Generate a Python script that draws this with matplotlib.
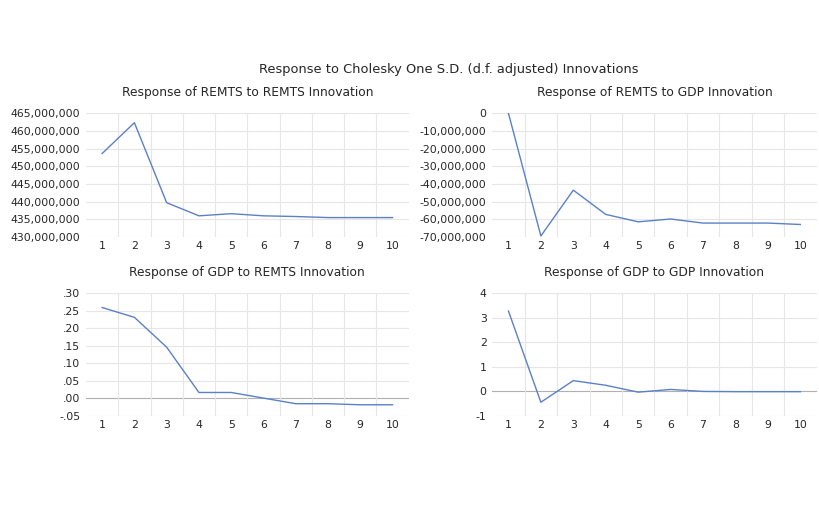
import numpy as np
import matplotlib.pyplot as plt
from matplotlib.ticker import FuncFormatter

plt.rcParams['font.family'] = ['DejaVu Sans']

# periods and impulse responses
periods = np.arange(1, 11)
remts_to_remts = [453.6e6, 462.3e6, 439.7e6, 436.0e6, 436.6e6, 436.0e6, 435.8e6, 435.5e6, 435.5e6, 435.5e6]
remts_to_gdp = [0.0, -69.4e6, -43.5e6, -57.2e6, -61.4e6, -59.8e6, -62.1e6, -62.1e6, -62.1e6, -62.9e6]
gdp_to_remts = [0.259, 0.231, 0.146, 0.017, 0.017, 0.001, -0.015, -0.015, -0.018, -0.018]
gdp_to_gdp = [3.27, -0.44, 0.44, 0.25, -0.03, 0.08, 0.0, -0.01, -0.01, -0.01]

titles = ["Response of REMTS to REMTS Innovation",
          "Response of REMTS to GDP Innovation",
          "Response of GDP to REMTS Innovation",
          "Response of GDP to GDP Innovation"]

line_col = '#5b80c8'
grid_col = '#e6e6e6'
txt_col = '#262626'

fig = plt.figure(figsize=(8.19, 5.12), dpi=100)

# [left, bottom, width, height]
boxes = [[0.105, 0.537, 0.394, 0.242],
         [0.601, 0.537, 0.396, 0.242],
         [0.105, 0.1875, 0.394, 0.240],
         [0.601, 0.1875, 0.396, 0.240]]

series = [remts_to_remts, remts_to_gdp, gdp_to_remts, gdp_to_gdp]
ylims = [(430e6, 465e6), (-70e6, 0), (-0.05, 0.30), (-1, 4)]
yticks = [np.arange(430e6, 466e6, 5e6),
          np.arange(-70e6, 1e6, 10e6),
          np.arange(-0.05, 0.31, 0.05),
          np.arange(-1, 5, 1)]


def big_fmt(v, pos):
    return f"{v:,.0f}"


def small_fmt(v, pos):
    s = f"{v:.2f}"
    if s.startswith('-0'):
        return '-' + s[2:]
    if s.startswith('0'):
        return s[1:]
    return s


def int_fmt(v, pos):
    return f"{v:.0f}"


fmts = [big_fmt, big_fmt, small_fmt, int_fmt]

for i in range(4):
    ax = fig.add_axes(boxes[i])
    ax.plot(periods, series[i], color=line_col, lw=1.0)
    ax.set_xlim(0.5, 10.5)
    ax.set_ylim(*ylims[i])
    ax.set_yticks(yticks[i])
    ax.set_xticks(periods)
    ax.yaxis.set_major_formatter(FuncFormatter(fmts[i]))
    ax.grid(False)
    for y in yticks[i]:
        c = '#b0b0b0' if abs(y) < 1e-9 and i >= 2 else grid_col
        ax.axhline(y, color=c, lw=0.8, zorder=0)
    for x in np.arange(1.5, 10.5, 1):
        ax.axvline(x, color=grid_col, lw=0.8, zorder=0)
    for s in ax.spines.values():
        s.set_visible(False)
    ax.tick_params(axis='both', which='both', length=0, labelsize=7.8,
                   colors=txt_col)
    ax.tick_params(axis='x', pad=3)
    ax.tick_params(axis='y', pad=4)
    ax.set_title(titles[i], fontsize=8.8, color=txt_col, pad=12)

fig.text(0.548, 0.865, "Response to Cholesky One S.D. (d.f. adjusted) Innovations",
         ha='center', va='center', fontsize=9.4, color=txt_col)

fig.savefig('out.png', dpi=100)
